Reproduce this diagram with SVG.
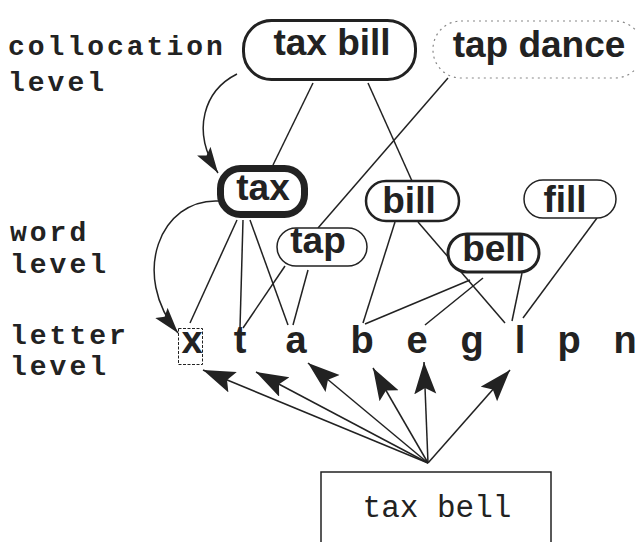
<svg xmlns="http://www.w3.org/2000/svg" width="636" height="542" viewBox="0 0 636 542">
<style>
.lab{font-family:"Liberation Mono","Courier New",monospace;font-weight:bold;font-size:28px;letter-spacing:3px;fill:#222}
.node{fill:#fff;stroke:#222}
.nt{font-family:"Liberation Sans",Arial,sans-serif;font-weight:bold;font-size:37px;fill:#222;text-anchor:middle}
.let{font-family:"Liberation Sans",Arial,sans-serif;font-weight:bold;font-size:38px;fill:#222;text-anchor:middle}
.ln{stroke:#222;stroke-width:1.5;fill:none}
</style>
<defs>
<marker id="big" markerUnits="userSpaceOnUse" markerWidth="40" markerHeight="30" refX="32" refY="11" orient="auto">
<path d="M0,0 L32,11 L0,22 L6,11 Z" fill="#222"/>
</marker>
<marker id="cur" markerUnits="userSpaceOnUse" markerWidth="32" markerHeight="24" refX="26" refY="8" orient="auto">
<path d="M0,0 L26,8 L0,16 L5,8 Z" fill="#222"/>
</marker>
</defs>
<rect width="636" height="542" fill="#fff"/>
<g id="labels">
<text class="lab" x="8" y="55">collocation</text>
<text class="lab" x="8" y="91">level</text>
<text class="lab" x="10" y="241">word</text>
<text class="lab" x="10" y="273">level</text>
<text class="lab" x="10" y="344">letter</text>
<text class="lab" x="10" y="375">level</text>
</g>
<g id="connectors">
<path class="ln" d="M237,74 C205,90 190,130 218,173" marker-end="url(#cur)"/>
<path class="ln" d="M219,201 C160,198 130,275 178,333" marker-end="url(#cur)"/>
<line class="ln" x1="313" y1="83" x2="273" y2="165" stroke-width="3"/>
<line class="ln" x1="368" y1="83" x2="412" y2="181"/>
<line class="ln" x1="448" y1="78" x2="318" y2="228"/>
<line class="ln" x1="237" y1="220" x2="190" y2="323"/>
<line class="ln" x1="243" y1="220" x2="240" y2="328"/>
<line class="ln" x1="250" y1="220" x2="288" y2="325"/>
<line class="ln" x1="285" y1="266" x2="243" y2="328"/>
<line class="ln" x1="308" y1="270" x2="293" y2="325"/>
<line class="ln" x1="395" y1="222" x2="363" y2="323"/>
<line class="ln" x1="418" y1="222" x2="505" y2="323"/>
<line class="ln" x1="470" y1="280" x2="365" y2="324"/>
<line class="ln" x1="483" y1="278" x2="425" y2="325"/>
<line class="ln" x1="522" y1="273" x2="512" y2="321"/>
<line class="ln" x1="597" y1="218" x2="523" y2="318"/>
<line class="ln" x1="428" y1="463" x2="203" y2="370" marker-end="url(#big)"/>
<line class="ln" x1="428" y1="463" x2="256" y2="372" marker-end="url(#big)"/>
<line class="ln" x1="428" y1="463" x2="308" y2="363" marker-end="url(#big)"/>
<line class="ln" x1="428" y1="463" x2="373" y2="368" marker-end="url(#big)"/>
<line class="ln" x1="428" y1="463" x2="424" y2="362" marker-end="url(#big)"/>
<line class="ln" x1="428" y1="463" x2="510" y2="370" marker-end="url(#big)"/>
</g>
<g id="taxbill">
<rect class="node" x="243.5" y="20.5" width="172" height="59" rx="28" stroke-width="3"/>
<text class="nt" x="332" y="55">tax bill</text>
</g>
<g id="tapdance">
<rect x="433" y="21" width="210" height="57" rx="28" fill="none" stroke="#888" stroke-width="1.2" stroke-dasharray="2 4"/>
<text class="nt" x="539" y="57">tap dance</text>
</g>
<g id="tax">
<rect class="node" x="220.5" y="168.5" width="84" height="46" rx="20" stroke-width="7"/>
<text class="nt" x="263" y="200">tax</text>
</g>
<g id="tap">
<rect class="node" x="277" y="228" width="90" height="38" rx="19" stroke-width="1.5"/>
<text class="nt" x="318" y="253">tap</text>
</g>
<g id="bill">
<rect class="node" x="366" y="181" width="93" height="40" rx="20" stroke-width="2.5"/>
<text class="nt" x="409" y="213">bill</text>
</g>
<g id="fill">
<rect class="node" x="524" y="180" width="92" height="38" rx="19" stroke-width="1.5"/>
<text class="nt" x="565" y="212">fill</text>
</g>
<g id="bell">
<rect class="node" x="448" y="234" width="91" height="38" rx="19" stroke-width="3"/>
<text class="nt" x="494" y="261">bell</text>
</g>
<g id="letters">
<rect x="178.5" y="328.5" width="24" height="36" fill="none" stroke="#222" stroke-width="1" stroke-dasharray="3 1.5"/>
<text class="let" x="192" y="353">x</text>
<text class="let" x="240" y="353">t</text>
<text class="let" x="296" y="353">a</text>
<text class="let" x="362" y="353">b</text>
<text class="let" x="417" y="353">e</text>
<text class="let" x="472" y="353">g</text>
<text class="let" x="520" y="353">l</text>
<text class="let" x="569" y="353">p</text>
<text class="let" x="625" y="353">n</text>
</g>
<g id="input">
<rect x="321" y="472" width="230" height="80" fill="#fff" stroke="#222" stroke-width="1.5"/>
<text x="437" y="517" font-family="Liberation Mono,'Courier New',monospace" font-size="31" fill="#222" text-anchor="middle">tax bell</text>
</g>
</svg>
